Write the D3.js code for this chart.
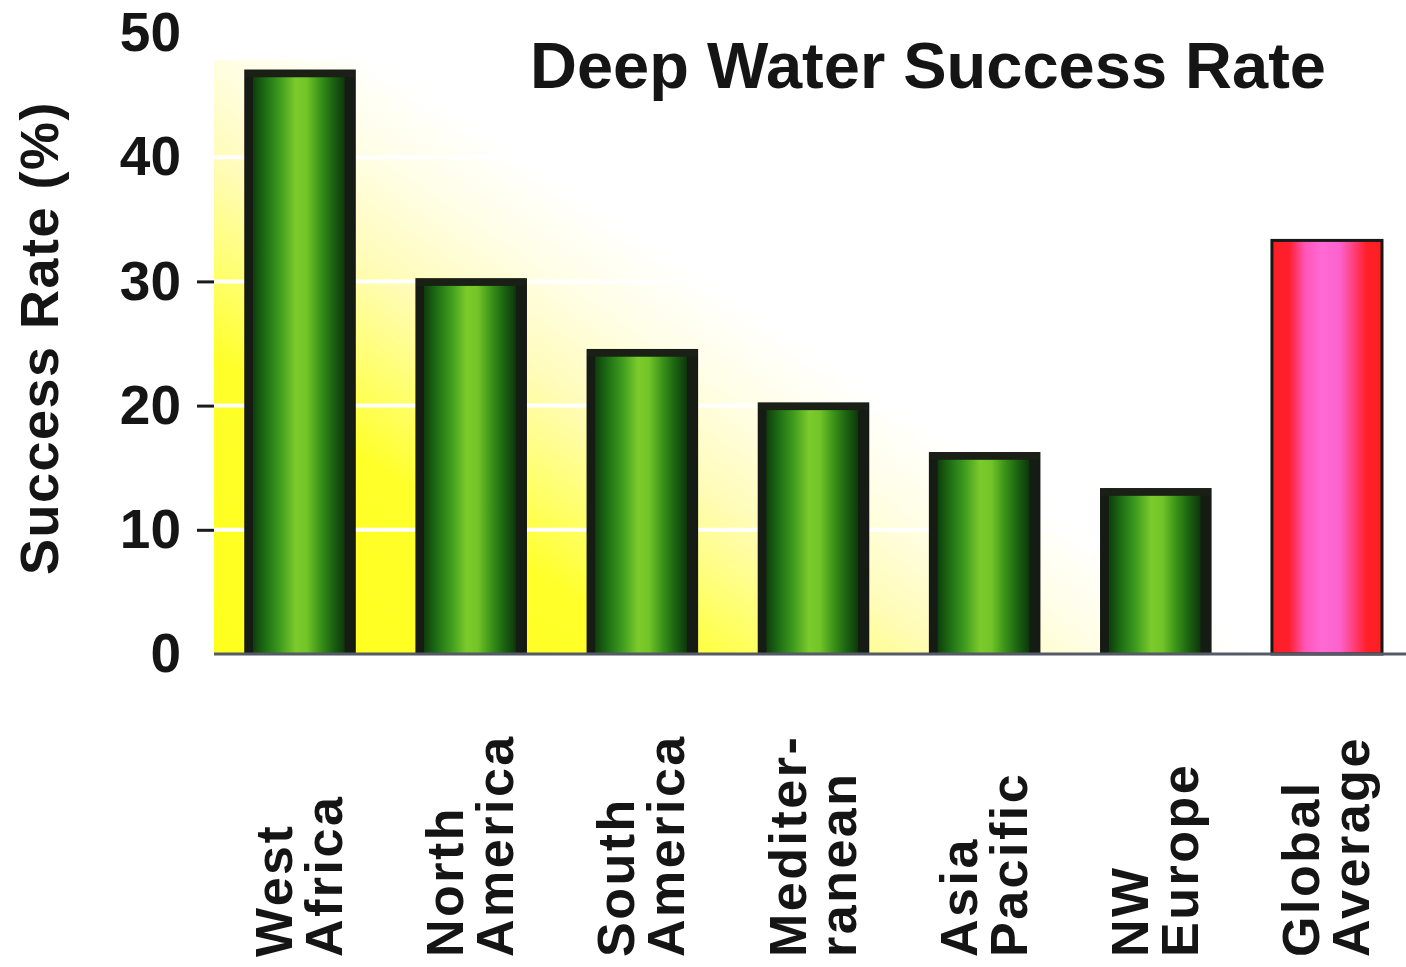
<!DOCTYPE html>
<html>
<head>
<meta charset="utf-8">
<title>Deep Water Success Rate</title>
<script src="https://cdn.jsdelivr.net/npm/d3@7"></script>
<style>
  html, body { margin: 0; padding: 0; background: #ffffff; }
  svg { display: block; }
  text { font-family: "Liberation Sans", Arial, Helvetica, sans-serif; fill: #151515; }
</style>
</head>
<body>
<svg id="chart" width="1406" height="967"></svg>
<script>
// Deep-water exploration success rate by region (%)
const regions = ["West Africa", "North America", "South America", "Mediterranean",
                 "Asia Pacific", "NW Europe", "Global Average"];
const regionLabels = [["West", "Africa"], ["North", "America"], ["South", "America"],
                      ["Mediter-", "ranean"], ["Asia", "Pacific"], ["NW", "Europe"],
                      ["Global", "Average"]];
const successRate = [47, 30.2, 24.5, 20.2, 16.2, 13.3, 33.3];
const yTickValues = [0, 10, 20, 30, 40, 50];
const yTickMarks = [10, 20, 30];
const gridValues = [10, 20, 30, 40];
const averageRegion = "Global Average";

const svg = d3.select("#chart");
const W = 1406, H = 967;
const plotLeft = 214, plotTop = 60, baseY = 654;

const y = d3.scaleLinear().domain([0, 50]).range([baseY, 33]);
const x = d3.scaleBand().domain(regions).range([245, 1382])
  .paddingInner(0.357).paddingOuter(0);

const defs = svg.append("defs");

// soft yellow wash rising from the lower-left corner of the plot
const wash = defs.append("linearGradient").attr("id", "wash")
  .attr("gradientUnits", "userSpaceOnUse")
  .attr("x1", plotLeft).attr("y1", baseY).attr("x2", 540).attr("y2", 168);
[[0, "#ffff1e"], [0.42, "#ffff2a"], [0.55, "#ffff6e"], [0.7, "#fffcb8"],
 [0.86, "#fffee6"], [1, "#ffffff"]].forEach(([o, c]) =>
  wash.append("stop").attr("offset", o).attr("stop-color", c));

// cylindrical shading for the regional bars
const green = defs.append("linearGradient").attr("id", "greenBar")
  .attr("x1", 0).attr("y1", 0).attr("x2", 1).attr("y2", 0);
[[0, "#141c14"], [0.07, "#141c14"], [0.075, "#0f3f0c"], [0.18, "#1d6c14"],
 [0.32, "#3f9c1e"], [0.46, "#7ccb2c"], [0.56, "#72c428"], [0.68, "#3c9419"],
 [0.8, "#1b6212"], [0.9, "#0e3a0a"], [0.91, "#141c14"], [1, "#141c14"]]
  .forEach(([o, c]) => green.append("stop").attr("offset", o).attr("stop-color", c));

const pink = defs.append("linearGradient").attr("id", "pinkBar")
  .attr("x1", 0).attr("y1", 0).attr("x2", 1).attr("y2", 0);
[[0, "#ff1e22"], [0.16, "#ff2030"], [0.3, "#ff55b8"], [0.45, "#ff6ad4"],
 [0.62, "#fb62cc"], [0.76, "#ff3a70"], [0.86, "#ff2028"], [1, "#ff1e22"]]
  .forEach(([o, c]) => pink.append("stop").attr("offset", o).attr("stop-color", c));

// background wash
svg.append("rect")
  .attr("x", plotLeft).attr("y", plotTop)
  .attr("width", W - plotLeft).attr("height", baseY - plotTop)
  .attr("fill", "url(#wash)");

// white gridlines across the wash
svg.append("g").selectAll("line").data(gridValues).join("line")
  .attr("x1", plotLeft).attr("x2", W)
  .attr("y1", d => y(d)).attr("y2", d => y(d))
  .attr("stroke", "#ffffff").attr("stroke-width", 4);

// bars
const bars = svg.append("g").selectAll("g").data(regions).join("g");
bars.append("rect")
  .attr("x", d => x(d))
  .attr("y", (d, i) => y(successRate[i]))
  .attr("width", x.bandwidth())
  .attr("height", (d, i) => baseY - y(successRate[i]))
  .attr("fill", d => d === averageRegion ? "url(#pinkBar)" : "url(#greenBar)")
  .attr("stroke", "#181818")
  .attr("stroke-width", d => d === averageRegion ? 3 : 1.5);
bars.filter(d => d !== averageRegion).append("rect")
  .attr("x", d => x(d))
  .attr("y", (d, i) => y(successRate[regions.indexOf(d)]))
  .attr("width", x.bandwidth())
  .attr("height", 7)
  .attr("fill", "#1a2016");

// baseline
svg.append("line")
  .attr("x1", plotLeft).attr("x2", W)
  .attr("y1", baseY).attr("y2", baseY)
  .attr("stroke", "#555a66").attr("stroke-width", 3);

// y axis labels
const yAxis = svg.append("g").attr("transform", `translate(${plotLeft},0)`)
  .call(d3.axisLeft(y).tickValues(yTickValues).tickSize(0).tickPadding(33));
yAxis.select(".domain").remove();
yAxis.selectAll("text")
  .attr("font-size", 55).attr("font-weight", "bold")
  .attr("font-family", "'Liberation Sans', Arial, sans-serif")
  .attr("fill", "#151515");

// y axis tick marks
const yMarks = svg.append("g").attr("transform", `translate(${plotLeft},0)`)
  .call(d3.axisLeft(y).tickValues(yTickMarks).tickSize(17).tickFormat(""));
yMarks.select(".domain").remove();
yMarks.selectAll("line").attr("stroke", "#1a1a1a").attr("stroke-width", 3);

// y axis title
svg.append("text")
  .attr("transform", "translate(58,338) rotate(-90)")
  .attr("text-anchor", "middle")
  .attr("font-size", 54).attr("font-weight", "bold")
  .attr("letter-spacing", 1.5)
  .text("Success Rate (%)");

// chart title
svg.append("text")
  .attr("x", 530).attr("y", 88)
  .attr("font-size", 65).attr("font-weight", "bold")
  .text("Deep Water Success Rate");

// rotated category labels
const cat = svg.append("g").selectAll("g").data(regions).join("g")
  .attr("transform", d => `translate(${x(d) + x.bandwidth() / 2},957)`);
cat.each(function (d, i) {
  const g = d3.select(this);
  regionLabels[i].forEach((line, k) => {
    g.append("text")
      .attr("transform", `translate(${-8 + k * 50},0) rotate(-90)`)
      .attr("font-size", 52).attr("font-weight", "bold")
      .attr("letter-spacing", 2.5)
      .text(line);
  });
});
</script>
</body>
</html>
